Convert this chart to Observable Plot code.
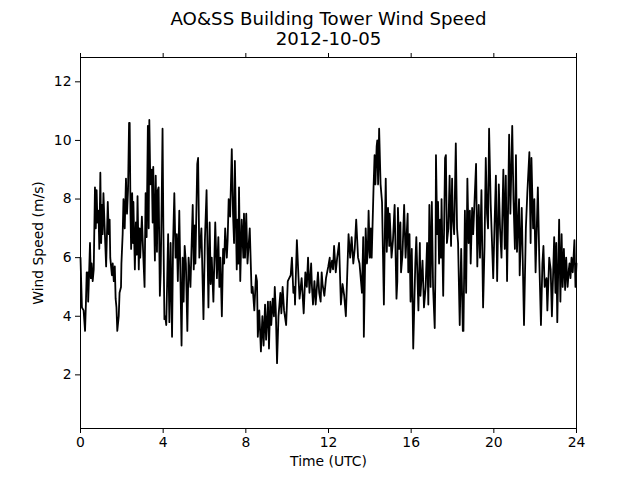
<!DOCTYPE html>
<html>
<head>
<meta charset="utf-8">
<script src="https://cdn.jsdelivr.net/npm/d3@7"></script>
<script src="https://cdn.jsdelivr.net/npm/@observablehq/plot@0.6"></script>
<style>
  html, body { margin: 0; padding: 0; background: #fff; }
  #chart { width: 640px; height: 480px; }
</style>
</head>
<body>
<div id="chart"></div>
<script>
const titleText = "AO&SS Building Tower Wind Speed";
const subtitleText = "2012-10-05";
const xLabel = "Time (UTC)";
const yLabel = "Wind Speed (m/s)";
const xTicks = [0, 4, 8, 12, 16, 20, 24];
const yTicks = [2, 4, 6, 8, 10, 12];

// hours (UTC)
const time = [
  0,0.04,0.07,0.15,0.22,0.26,0.30,0.33,0.36,0.37,0.40,0.46,0.50,0.54,0.59,0.64,0.70,0.74,0.78,0.82,0.87,0.91,0.96,
  1.00,1.04,1.07,1.11,1.17,1.24,1.32,1.37,1.41,1.44,1.52,1.56,1.61,1.66,1.70,1.74,1.78,1.85,1.89,1.96,1.98,
  2.04,2.08,2.14,2.20,2.25,2.30,2.35,2.38,2.42,2.45,2.50,2.54,2.56,2.63,2.68,2.72,2.76,2.82,2.86,2.89,2.97,
  3.03,3.10,3.15,3.20,3.26,3.30,3.33,3.38,3.45,3.49,3.52,3.60,3.64,3.70,3.74,3.78,3.84,3.88,3.93,3.97,
  4.01,4.06,4.10,4.15,4.24,4.30,4.36,4.43,4.48,4.54,4.60,4.66,4.71,4.78,4.89,4.94,4.99,
  5.04,5.10,5.17,5.23,5.32,5.43,5.48,5.53,5.56,5.65,5.69,5.75,5.85,5.95,
  6.02,6.10,6.19,6.25,6.30,6.35,6.43,6.52,6.60,6.67,6.72,6.77,6.84,6.90,6.95,
  7.00,7.08,7.12,7.17,7.24,7.32,7.38,7.43,7.47,7.56,7.60,7.64,7.67,7.73,7.80,7.88,7.91,7.96,
  8.02,8.08,8.19,8.28,8.33,8.41,8.49,8.54,8.58,8.65,8.73,8.80,8.86,8.93,8.98,
  9.07,9.12,9.18,9.23,9.30,9.36,9.40,9.45,9.51,9.58,9.67,9.72,9.78,9.85,9.95,
  10.03,10.10,10.17,10.23,10.30,10.36,10.38,10.47,10.55,10.60,10.70,10.80,10.88,10.95,
  11.01,11.08,11.16,11.20,11.25,11.32,11.38,11.49,11.55,11.62,11.67,11.71,11.80,11.88,11.99,
  12.06,12.08,12.17,12.22,12.27,12.35,12.42,12.51,12.60,12.68,12.76,12.84,12.97,
  13.05,13.12,13.20,13.27,13.34,13.43,13.50,13.62,13.68,13.71,13.80,13.86,13.90,13.94,
  14.00,14.05,14.09,14.18,14.23,14.27,14.33,14.36,14.40,14.45,14.52,14.59,14.68,14.73,14.77,14.82,14.88,14.94,14.96,
  15.05,15.12,15.20,15.29,15.33,15.36,15.42,15.48,15.51,15.58,15.66,15.73,15.83,15.86,15.90,15.92,15.97,
  16.03,16.10,16.20,16.25,16.35,16.42,16.45,16.55,16.62,16.70,16.77,16.83,16.88,16.94,
  17.00,17.06,17.14,17.18,17.20,17.26,17.30,17.35,17.40,17.44,17.47,17.55,17.64,17.68,17.73,17.80,17.86,17.93,17.98,
  18.01,18.08,18.16,18.22,18.27,18.35,18.42,18.50,18.53,18.60,18.66,18.72,18.78,18.84,18.88,18.95,
  19.00,19.03,19.14,19.20,19.27,19.33,19.40,19.48,19.55,19.61,19.67,19.72,19.77,19.85,19.97,
  20.03,20.10,20.16,20.24,20.30,20.37,20.46,20.53,20.58,20.64,20.74,20.80,20.89,20.95,
  21.02,21.07,21.12,21.22,21.25,21.35,21.46,21.55,21.62,21.72,21.78,21.82,21.90,21.96,
  22.02,22.13,22.20,22.28,22.35,22.40,22.46,22.55,22.59,22.68,22.75,22.81,22.92,22.98,
  23.02,23.07,23.16,23.22,23.28,23.33,23.39,23.45,23.50,23.57,23.63,23.66,23.71,23.76,23.82,23.90,23.95,24.00
];

// wind speed (m/s)
const speed = [
  6.0,5.0,4.3,4.2,3.5,4.4,5.5,5.2,5.5,4.5,5.1,6.5,5.3,5.8,5.2,5.6,8.4,7.0,8.3,7.2,7.6,6.3,8.9,
  6.5,7.8,6.8,8.2,7.0,5.7,7.9,6.8,7.3,6.0,5.4,5.8,5.2,5.7,4.6,4.3,3.5,4.0,4.8,5.0,5.8,
  6.8,8.0,7.0,8.7,7.5,8.3,10.6,10.6,7.5,6.3,8.2,6.5,7.9,5.6,7.2,6.1,8.1,5.6,7.0,6.0,7.4,
  6.2,5.0,8.2,6.7,10.5,7.0,10.7,8.5,9.0,7.2,9.1,5.9,8.8,6.2,8.3,8.4,4.7,5.5,8.0,10.4,
  7.0,3.9,4.0,3.7,6.8,3.8,6.5,3.3,6.5,8.2,6.0,6.8,5.2,7.6,3.0,6.0,4.5,
  6.4,5.8,3.5,6.0,5.0,7.8,5.6,7.1,5.8,9.2,9.4,6.0,7.0,3.9,
  6.6,8.3,4.3,7.2,5.1,6.0,4.5,7.2,5.3,6.7,5.0,6.0,4.0,6.3,5.8,
  7.0,6.0,6.6,8.0,7.4,9.7,7.5,6.5,9.3,5.6,7.3,5.8,8.4,5.2,7.3,6.0,7.5,6.0,
  7.5,5.8,7.0,4.8,5.0,4.2,5.4,5.2,3.3,4.2,2.8,4.0,3.0,4.4,3.2,
  4.5,2.9,4.5,3.7,4.6,4.0,5.0,4.2,2.4,4.0,4.8,4.1,5.0,4.2,3.7,
  5.2,5.3,5.4,6.0,4.8,5.0,4.4,6.6,5.3,4.6,5.3,4.1,5.5,5.0,
  6.0,4.8,5.8,5.0,4.4,5.2,4.4,5.5,4.8,4.5,5.5,5.1,4.7,5.3,5.7,
  6.0,5.5,5.9,5.6,6.4,5.5,6.0,6.5,4.4,5.1,4.7,4.0,6.8,
  6.0,6.7,5.8,6.3,7.3,6.0,5.8,4.8,6.7,3.3,7.0,5.8,6.2,7.6,
  6.0,7.0,6.0,8.4,9.5,8.5,9.8,10.0,8.5,10.4,8.5,7.9,4.4,7.0,8.7,6.2,7.7,6.4,7.5,
  6.0,6.6,7.8,4.6,5.2,7.7,6.3,7.2,5.5,6.1,7.8,6.0,7.5,5.5,6.0,6.8,4.5,
  6.3,2.9,5.8,6.7,4.2,6.5,4.7,5.9,4.3,5.0,6.5,4.4,7.8,5.0,
  7.9,5.0,3.6,6.0,9.5,6.8,7.9,5.8,7.3,6.0,8.0,4.7,9.4,9.5,6.5,7.0,8.8,6.4,8.7,
  7.5,6.8,9.9,7.0,6.5,3.7,6.3,3.5,3.5,7.6,4.8,8.7,6.5,7.6,5.8,7.7,
  6.8,7.3,9.2,5.7,7.8,6.0,8.3,4.3,6.4,9.4,7.5,7.0,10.4,7.8,5.3,
  7.0,8.8,5.2,8.5,7.0,6.0,9.0,6.3,8.8,5.2,10.2,7.5,10.5,8.0,
  6.3,9.5,6.2,8.0,5.4,7.7,3.7,7.0,8.2,9.6,6.5,9.4,7.0,8.0,
  5.5,8.4,5.9,3.7,5.8,6.4,5.0,5.3,4.2,6.0,5.6,4.0,6.7,4.8,
  6.5,3.8,7.3,4.5,6.8,5.0,6.3,4.9,6.0,5.0,5.6,5.8,5.3,6.0,5.5,6.6,5.0,5.8
];

const n = Math.min(time.length, speed.length);
const data = d3.range(n).map(i => ({t: time[i], v: speed[i]}));

const font = "DejaVu Sans, sans-serif";

const chart = Plot.plot({
  width: 640,
  height: 480,
  marginLeft: 80,
  marginRight: 64,
  marginTop: 57,
  marginBottom: 52,
  style: {fontFamily: font, fontSize: "13.9px", color: "#000", background: "#fff"},
  x: {domain: [0, 24], label: null},
  y: {domain: [0.17, 12.83], label: null},
  marks: [
    Plot.line(data, {x: "t", y: "v", stroke: "#000", strokeWidth: 1.8, strokeLinejoin: "round"}),
    Plot.frame({stroke: "#000", strokeWidth: 1}),
    Plot.axisX({ticks: xTicks, tickSize: 5, tickPadding: 4, tickFormat: d => String(d), fontSize: 13.9, label: null}),
    Plot.axisX({anchor: "top", ticks: xTicks, tickSize: 5, tickFormat: () => "", label: null}),
    Plot.axisY({ticks: yTicks, tickSize: 5, tickPadding: 4, tickFormat: d => String(d), fontSize: 13.9, label: null}),
    Plot.text([xLabel], {frameAnchor: "bottom", dy: 33, text: d => d, fontSize: 13.9, lineAnchor: "middle"}),
    Plot.text([yLabel], {frameAnchor: "left", dx: -42, rotate: -90, text: d => d, fontSize: 13.9, textAnchor: "middle", lineAnchor: "middle"}),
    Plot.text([titleText + "\n" + subtitleText], {frameAnchor: "top", dy: -29, text: d => d, fontSize: 18.2, lineHeight: 1.1, lineAnchor: "middle"})
  ]
});
document.getElementById("chart").appendChild(chart);
</script>
</body>
</html>
